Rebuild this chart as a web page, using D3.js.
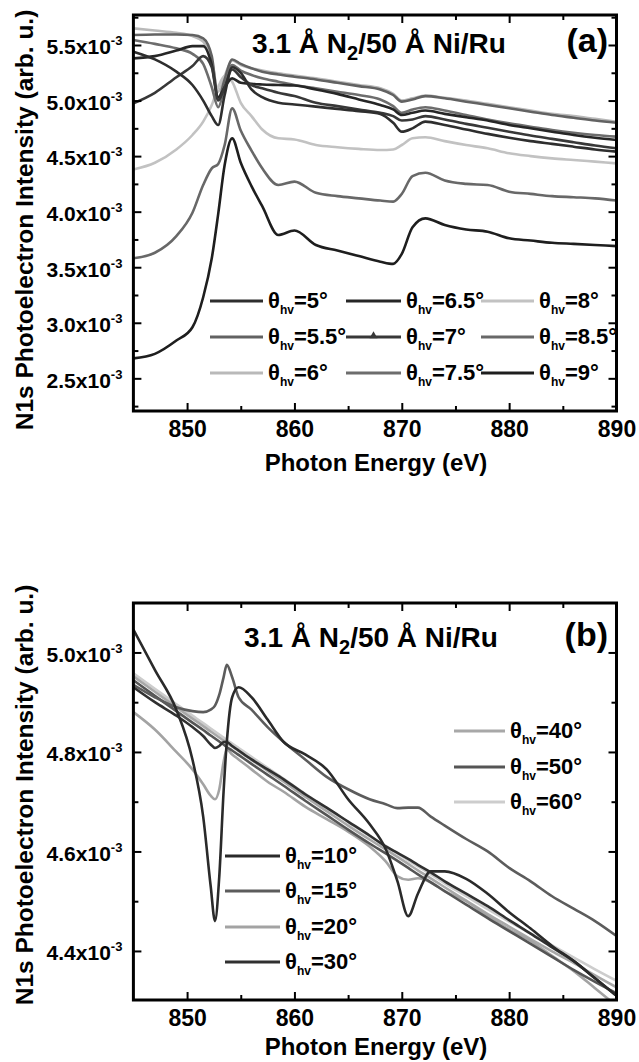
<!DOCTYPE html>
<html>
<head>
<meta charset="utf-8">
<script src="https://cdn.jsdelivr.net/npm/d3@7"></script>
<style>
body { margin: 0; background: #fff; }
svg text { font-family: "Liberation Sans", Arial, Helvetica, sans-serif; font-weight: bold; fill: #000; }
</style>
</head>
<body>
<svg id="chart" width="639" height="1062"></svg>
<script>
// ---- panel (a) data : photon energy (eV) and N1s intensity (x10^-3) ----
var energyA = [845, 847, 849, 850.5, 851.5, 852.3, 852.9, 853.5, 854.2, 855, 856, 857, 858.5, 860, 862,
	864, 866, 868, 869.2, 870, 871, 872.2, 874, 876, 878, 880, 882, 884, 886, 888, 890];

var a5   = [5.44, 5.37, 5.26, 5.14, 5.00, 4.86, 4.78, 5.05, 5.30, 5.25, 5.10, 5.03, 4.98, 4.965, 4.945,
	4.925, 4.905, 4.88, 4.80, 4.72, 4.75, 4.81, 4.78, 4.74, 4.70, 4.665, 4.635, 4.61, 4.585, 4.56, 4.54];
var a5_5 = [5.59, 5.595, 5.595, 5.59, 5.56, 5.40, 5.01, 5.19, 5.37, 5.33, 5.29, 5.26, 5.235, 5.215, 5.19,
	5.16, 5.13, 5.10, 5.05, 4.99, 5.01, 5.04, 5.02, 4.99, 4.96, 4.93, 4.90, 4.87, 4.845, 4.82, 4.80];
var a6   = [5.65, 5.63, 5.61, 5.58, 5.53, 5.36, 5.08, 5.22, 5.36, 5.32, 5.29, 5.27, 5.245, 5.225, 5.20,
	5.17, 5.14, 5.11, 5.06, 5.00, 5.02, 5.045, 5.025, 5.00, 4.97, 4.94, 4.91, 4.88, 4.86, 4.835, 4.81];
var a6_5 = [5.38, 5.40, 5.45, 5.49, 5.49, 5.32, 5.03, 5.12, 5.20, 5.16, 5.15, 5.145, 5.14, 5.135, 5.10,
	5.06, 5.01, 4.96, 4.92, 4.87, 4.89, 4.91, 4.88, 4.85, 4.82, 4.78, 4.75, 4.72, 4.69, 4.665, 4.645];
var a7   = [4.975, 5.07, 5.21, 5.31, 5.40, 5.30, 5.00, 5.12, 5.28, 5.21, 5.14, 5.11, 5.07, 5.04, 4.98,
	4.95, 4.92, 4.89, 4.86, 4.82, 4.83, 4.86, 4.83, 4.79, 4.755, 4.72, 4.685, 4.655, 4.625, 4.595, 4.57];
var a7_5 = [5.545, 5.51, 5.47, 5.42, 5.33, 5.12, 4.94, 5.12, 5.32, 5.27, 5.23, 5.20, 5.17, 5.14, 5.11,
	5.08, 5.05, 5.01, 4.95, 4.89, 4.92, 4.94, 4.91, 4.87, 4.83, 4.795, 4.765, 4.735, 4.71, 4.69, 4.675];
var a8   = [4.38, 4.44, 4.56, 4.69, 4.81, 4.96, 5.12, 5.22, 5.17, 4.98, 4.86, 4.74, 4.66, 4.65, 4.60,
	4.58, 4.565, 4.555, 4.56, 4.60, 4.66, 4.67, 4.635, 4.60, 4.57, 4.525, 4.50, 4.48, 4.465, 4.45, 4.435];
var a8_5 = [3.58, 3.63, 3.78, 3.99, 4.24, 4.39, 4.43, 4.60, 4.93, 4.73, 4.55, 4.39, 4.24, 4.27, 4.17,
	4.14, 4.12, 4.10, 4.09, 4.16, 4.32, 4.35, 4.28, 4.25, 4.24, 4.18, 4.16, 4.14, 4.13, 4.12, 4.10];
var a9   = [2.68, 2.72, 2.84, 2.96, 3.23, 3.58, 3.98, 4.42, 4.66, 4.44, 4.23, 4.05, 3.79, 3.83, 3.70,
	3.65, 3.60, 3.55, 3.53, 3.62, 3.86, 3.94, 3.88, 3.84, 3.82, 3.76, 3.74, 3.72, 3.71, 3.70, 3.69];

// ---- panel (b) data ----
var energyB = [845, 847, 849, 850.5, 851.5, 852.2, 852.6, 853.0, 853.4, 853.7, 854.2, 854.8, 856, 857.5, 859,
	861, 863, 865, 867, 868.5, 869.6, 870.6, 871.5, 872.7, 874, 876, 878, 880, 882, 884, 886, 888, 890];

var b10 = [5.046, 4.965, 4.885, 4.785, 4.67, 4.53, 4.46, 4.55, 4.72, 4.82, 4.91, 4.93, 4.91, 4.865, 4.82,
	4.795, 4.765, 4.705, 4.655, 4.605, 4.54, 4.47, 4.515, 4.56, 4.56, 4.545, 4.515, 4.478, 4.445, 4.41, 4.38, 4.345, 4.31];
var b15 = [4.935, 4.91, 4.89, 4.882, 4.88, 4.885, 4.893, 4.915, 4.95, 4.975, 4.95, 4.91, 4.885, 4.85, 4.82,
	4.785, 4.75, 4.725, 4.705, 4.695, 4.687, 4.688, 4.688, 4.67, 4.652, 4.625, 4.60, 4.567, 4.54, 4.51, 4.485, 4.46, 4.43];
var b20 = [4.88, 4.845, 4.80, 4.765, 4.735, 4.712, 4.705, 4.725, 4.78, 4.805, 4.795, 4.785, 4.765, 4.74, 4.72,
	4.69, 4.665, 4.64, 4.61, 4.58, 4.55, 4.543, 4.546, 4.538, 4.52, 4.50, 4.47, 4.443, 4.42, 4.39, 4.36, 4.325, 4.29];
var b30 = [4.93, 4.90, 4.873, 4.85, 4.832, 4.815, 4.808, 4.812, 4.82, 4.82, 4.812, 4.803, 4.785, 4.765, 4.745,
	4.715, 4.688, 4.66, 4.632, 4.61, 4.597, 4.585, 4.573, 4.558, 4.54, 4.515, 4.49, 4.462, 4.435, 4.407, 4.38, 4.345, 4.31];
var b40 = [4.952, 4.921, 4.89, 4.867, 4.852, 4.841, 4.835, 4.829, 4.823, 4.818, 4.811, 4.802, 4.784, 4.762, 4.74,
	4.71, 4.681, 4.652, 4.624, 4.604, 4.589, 4.575, 4.562, 4.546, 4.528, 4.501, 4.474, 4.449, 4.424, 4.399, 4.376, 4.351, 4.327];
var b50 = [4.944, 4.913, 4.882, 4.859, 4.844, 4.833, 4.827, 4.821, 4.815, 4.81, 4.803, 4.794, 4.776, 4.754, 4.732,
	4.702, 4.673, 4.644, 4.616, 4.596, 4.581, 4.567, 4.554, 4.538, 4.52, 4.493, 4.466, 4.44, 4.414, 4.388, 4.362, 4.338, 4.315];
var b60 = [4.958, 4.927, 4.896, 4.873, 4.858, 4.847, 4.841, 4.835, 4.829, 4.824, 4.817, 4.808, 4.79, 4.768, 4.746,
	4.716, 4.687, 4.659, 4.631, 4.611, 4.596, 4.582, 4.57, 4.554, 4.536, 4.51, 4.484, 4.459, 4.435, 4.411, 4.387, 4.363, 4.34];

// tick values
var xMajor = [850, 860, 870, 880, 890];
var xMinor = [855, 865, 875, 885];
var yMajorA = [2.5, 3.0, 3.5, 4.0, 4.5, 5.0, 5.5];
var yMinorA = [2.25, 2.75, 3.25, 3.75, 4.25, 4.75, 5.25, 5.75];
var yMajorB = [4.4, 4.6, 4.8, 5.0];
var yMinorB = [4.5, 4.7, 4.9];

var svg = d3.select("#chart");

// series tables (draw order, then legend order)
var seriesA = [
	{name: "6", values: a6, color: "#b9b9b9"},
	{name: "8", values: a8, color: "#c2c2c2"},
	{name: "5.5", values: a5_5, color: "#626262"},
	{name: "7.5", values: a7_5, color: "#6d6d6d"},
	{name: "8.5", values: a8_5, color: "#686868"},
	{name: "6.5", values: a6_5, color: "#262626"},
	{name: "7", values: a7, color: "#383838"},
	{name: "5", values: a5, color: "#2e2e2e"},
	{name: "9", values: a9, color: "#1e1e1e"}
];
var legendA = ["5", "5.5", "6", "6.5", "7", "7.5", "8", "8.5", "9"];

var seriesB = [
	{name: "60", values: b60, color: "#cdcdcd"},
	{name: "40", values: b40, color: "#a8a8a8"},
	{name: "20", values: b20, color: "#a3a3a3"},
	{name: "50", values: b50, color: "#555555"},
	{name: "15", values: b15, color: "#5c5c5c"},
	{name: "30", values: b30, color: "#303030"},
	{name: "10", values: b10, color: "#2a2a2a"}
];

function colorOf(series, name){
	return series.filter(function(s){ return s.name == name; })[0].color;
}

function drawPanel(cfg){
	var x = d3.scaleLinear().domain([845, 890]).range([133.4, 616.5]);
	var y = d3.scaleLinear().domain(cfg.yDomain).range([cfg.bottom, cfg.top]);
	var g = svg.append("g");

	var clipId = "clip" + cfg.key;
	svg.append("clipPath").attr("id", clipId)
		.append("rect")
		.attr("x", 133.4).attr("y", cfg.top)
		.attr("width", 616.5 - 133.4).attr("height", cfg.bottom - cfg.top);

	var line = d3.line()
		.x(function(d, i){ return x(cfg.energy[i]); })
		.y(function(d){ return y(d); })
		.curve(d3.curveMonotoneX);

	g.append("g").attr("clip-path", "url(#" + clipId + ")")
		.selectAll("path")
		.data(cfg.series)
		.enter().append("path")
		.attr("d", function(s){ return line(s.values); })
		.attr("fill", "none")
		.attr("stroke", function(s){ return s.color; })
		.attr("stroke-width", 2.6)
		.attr("stroke-linejoin", "round");

	// bottom axis (inward ticks) with labels
	var bottom = g.append("g")
		.attr("transform", "translate(0," + cfg.bottom + ")")
		.call(d3.axisBottom(x).tickValues(xMajor).tickSizeInner(-8).tickSizeOuter(0).tickPadding(10));
	bottom.selectAll("text").style("font-size", "23px");
	g.append("g")
		.attr("transform", "translate(0," + cfg.bottom + ")")
		.call(d3.axisBottom(x).tickValues(xMinor).tickSizeInner(-5).tickSizeOuter(0).tickFormat(""));
	// top axis mirror
	g.append("g")
		.attr("transform", "translate(0," + cfg.top + ")")
		.call(d3.axisTop(x).tickValues(xMajor).tickSizeInner(-8).tickSizeOuter(0).tickFormat(""));
	g.append("g")
		.attr("transform", "translate(0," + cfg.top + ")")
		.call(d3.axisTop(x).tickValues(xMinor).tickSizeInner(-5).tickSizeOuter(0).tickFormat(""));

	// left axis with x10^-3 labels
	var left = g.append("g")
		.attr("transform", "translate(133.4,0)")
		.call(d3.axisLeft(y).tickValues(cfg.yMajor).tickSizeInner(-8).tickSizeOuter(0).tickPadding(11)
			.tickFormat(function(d){ return d3.format(".1f")(d) + "x10"; }));
	left.selectAll(".tick text")
		.attr("dy", "0.42em")
		.style("font-size", "21px")
		.append("tspan")
		.attr("dy", -9)
		.style("font-size", "13px")
		.text("-3");
	g.append("g")
		.attr("transform", "translate(133.4,0)")
		.call(d3.axisLeft(y).tickValues(cfg.yMinor).tickSizeInner(-5).tickSizeOuter(0).tickFormat(""));
	// right axis mirror
	g.append("g")
		.attr("transform", "translate(616.5,0)")
		.call(d3.axisRight(y).tickValues(cfg.yMajor).tickSizeInner(-8).tickSizeOuter(0).tickFormat(""));
	g.append("g")
		.attr("transform", "translate(616.5,0)")
		.call(d3.axisRight(y).tickValues(cfg.yMinor).tickSizeInner(-5).tickSizeOuter(0).tickFormat(""));

	g.selectAll(".domain").remove();
	g.selectAll(".tick line").attr("stroke", "#000").attr("stroke-width", 2);

	// frame
	g.append("rect")
		.attr("x", 133.4).attr("y", cfg.top)
		.attr("width", 616.5 - 133.4).attr("height", cfg.bottom - cfg.top)
		.attr("fill", "none").attr("stroke", "#000").attr("stroke-width", 3);

	// title inside
	var t = g.append("text")
		.attr("x", cfg.titleX).attr("y", cfg.titleY)
		.attr("text-anchor", "middle")
		.style("font-size", "28px");
	t.append("tspan").text("3.1 \u00c5 N");
	t.append("tspan").attr("dy", 7).style("font-size", "20px").text("2");
	t.append("tspan").attr("dy", -7).text("/50 \u00c5 Ni/Ru");

	g.append("text")
		.attr("x", 608).attr("y", cfg.titleY - 1)
		.attr("text-anchor", "end")
		.style("font-size", "34px")
		.text(cfg.tag);

	// axis titles
	g.append("text")
		.attr("x", 376).attr("y", cfg.bottom + cfg.xTitleOffset)
		.attr("text-anchor", "middle")
		.style("font-size", "24px")
		.text("Photon Energy (eV)");
	g.append("text")
		.attr("transform", "translate(33," + cfg.yTitleY + ") rotate(-90)")
		.attr("text-anchor", "middle")
		.style("font-size", "24.5px")
		.text("N1s Photoelectron Intensity (arb. u.)");

	return g;
}

function legendEntry(g, name, color, x1, x2, yy, marker){
	g.append("line")
		.attr("x1", x1).attr("x2", x2)
		.attr("y1", yy).attr("y2", yy)
		.attr("stroke", color).attr("stroke-width", 3);
	if (marker){
		g.append("path")
			.attr("d", d3.symbol().type(d3.symbolTriangle).size(28)())
			.attr("transform", "translate(" + ((x1 + x2) / 2) + "," + (yy - 1) + ")")
			.attr("fill", color);
	}
	var t = g.append("text")
		.attr("x", x2 + 5).attr("y", yy + 7)
		.style("font-size", "22px");
	t.append("tspan").text("\u03b8");
	t.append("tspan").attr("dy", 6).style("font-size", "12px").text("hv");
	t.append("tspan").attr("dy", -6).text("=" + name + "\u00b0");
}

// ---- panel (a) ----
var gA = drawPanel({
	key: "A", tag: "(a)", energy: energyA, series: seriesA,
	yDomain: [2.206, 5.77], top: 15, bottom: 411,
	yMajor: yMajorA, yMinor: yMinorA,
	titleX: 379, titleY: 53, yTitleY: 220, xTitleOffset: 60
});
var colsA = [[210, 263], [346, 401], [481, 534]];
var rowsA = [301, 337, 373];
legendA.forEach(function(name, i){
	var c = colsA[Math.floor(i / 3)], r = rowsA[i % 3];
	legendEntry(gA, name, colorOf(seriesA, name), c[0], c[1], r, name == "7");
});

// ---- panel (b) ----
var gB = drawPanel({
	key: "B", tag: "(b)", energy: energyB, series: seriesB,
	yDomain: [4.3014, 5.0994], top: 603, bottom: 1000,
	yMajor: yMajorB, yMinor: yMinorB,
	titleX: 371, titleY: 647, yTitleY: 795, xTitleOffset: 55
});
var legendBRight = ["40", "50", "60"];
var rowsBRight = [731, 767, 802];
legendBRight.forEach(function(name, i){
	legendEntry(gB, name, colorOf(seriesB, name), 454, 505, rowsBRight[i], false);
});
var legendBLeft = ["10", "15", "20", "30"];
var rowsBLeft = [856, 891, 927, 962];
legendBLeft.forEach(function(name, i){
	legendEntry(gB, name, colorOf(seriesB, name), 225, 280, rowsBLeft[i], false);
});
</script>
</body>
</html>
